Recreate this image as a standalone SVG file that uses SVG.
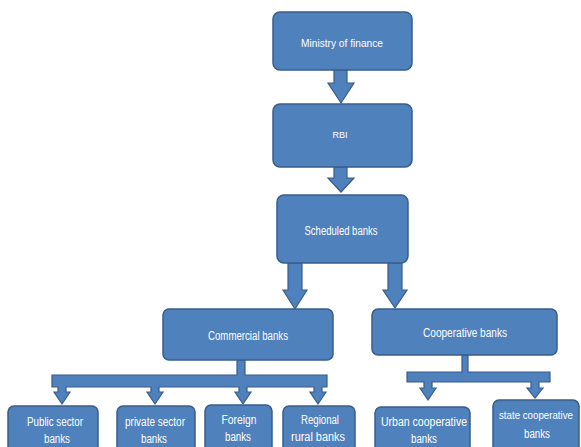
<svg xmlns="http://www.w3.org/2000/svg" width="581" height="447" viewBox="0 0 581 447">
<style>
.box{fill:#4F81BD;stroke:#385D8A;stroke-width:1.5}
.con{fill:#4F81BD;stroke:#385D8A;stroke-width:1.2;stroke-linejoin:miter}
.t{fill:#ffffff;font-family:"Liberation Sans",Arial,sans-serif;font-size:11px;text-anchor:middle}
.s{font-size:12px}
</style>
<rect width="581" height="447" fill="#ffffff"/>
<g id="connectors">
<path class="con" d="M334,70 H347 V83 H354 L341,103 L328,83 H334 Z"/>
<path class="con" d="M334,167 H347 V178 H354 L341,192 L328,178 H334 Z"/>
<path class="con" d="M288,263 H302 V290 H307 L295,309 L283,290 H288 Z"/>
<path class="con" d="M388,263 H402 V290 H407 L395,308 L383,290 H388 Z"/>
<path class="con" d="M237,360 H245 V375 H327 V387 H322 V392 H326 L318,404 L310,392 H314 V387 H247 V392 H251 L243,404 L235,392 H239 V387 H159 V392 H163 L155,404 L147,392 H151 V387 H66 V392 H70 L62,404 L54,392 H58 V387 H52 V375 H237 Z"/>
<path class="con" d="M462,355 H468 V372 H550 V382 H539 V388 H543 L535,398 L527,388 H531 V382 H432 V388 H436 L428,400 L420,388 H424 V382 H407 V372 H462 Z"/>
</g>
<g id="ministry">
<rect class="box" x="273" y="12" width="139" height="58" rx="7"/>
<text class="t" x="342" y="47" textLength="82" lengthAdjust="spacingAndGlyphs">Ministry of finance</text>
</g>
<g id="rbi">
<rect class="box" x="273" y="104" width="139" height="63" rx="7"/>
<text class="t" x="340" y="138" style="font-size:9px">RBI</text>
</g>
<g id="scheduled">
<rect class="box" x="277" y="195" width="131" height="68" rx="7"/>
<text class="t s" x="341" y="235" textLength="73" lengthAdjust="spacingAndGlyphs">Scheduled banks</text>
</g>
<g id="commercial">
<rect class="box" x="163" y="309" width="170" height="51" rx="6"/>
<text class="t s" x="248" y="340" textLength="80" lengthAdjust="spacingAndGlyphs">Commercial banks</text>
</g>
<g id="cooperative">
<rect class="box" x="372" y="309" width="185" height="46" rx="6"/>
<text class="t s" x="465" y="337" textLength="84" lengthAdjust="spacingAndGlyphs">Cooperative banks</text>
</g>
<g id="public">
<rect class="box" x="8" y="406" width="90" height="50" rx="6"/>
<text class="t s" x="55" y="426" textLength="56" lengthAdjust="spacingAndGlyphs">Public sector</text>
<text class="t s" x="57" y="443" textLength="26" lengthAdjust="spacingAndGlyphs">banks</text>
</g>
<g id="private">
<rect class="box" x="117" y="406" width="78" height="50" rx="6"/>
<text class="t s" x="155" y="426" textLength="60" lengthAdjust="spacingAndGlyphs">private sector</text>
<text class="t s" x="154" y="443" textLength="26" lengthAdjust="spacingAndGlyphs">banks</text>
</g>
<g id="foreign">
<rect class="box" x="205" y="405" width="67" height="51" rx="6"/>
<text class="t s" x="239" y="424" textLength="35" lengthAdjust="spacingAndGlyphs">Foreign</text>
<text class="t s" x="238" y="441" textLength="26" lengthAdjust="spacingAndGlyphs">banks</text>
</g>
<g id="regional">
<rect class="box" x="283" y="406" width="72" height="50" rx="6"/>
<text class="t s" x="320" y="424" textLength="38" lengthAdjust="spacingAndGlyphs">Regional</text>
<text class="t s" x="318" y="441" textLength="54" lengthAdjust="spacingAndGlyphs">rural banks</text>
</g>
<g id="urban">
<rect class="box" x="375" y="407" width="95" height="50" rx="6"/>
<text class="t s" x="424" y="426" textLength="86" lengthAdjust="spacingAndGlyphs">Urban  cooperative</text>
<text class="t s" x="424" y="443" textLength="26" lengthAdjust="spacingAndGlyphs">banks</text>
</g>
<g id="state">
<rect class="box" x="493" y="400" width="86" height="56" rx="6"/>
<text class="t" x="536" y="419" style="font-size:10px" textLength="74" lengthAdjust="spacingAndGlyphs">state cooperative</text>
<text class="t s" x="537" y="438" textLength="26" lengthAdjust="spacingAndGlyphs">banks</text>
</g>
</svg>
